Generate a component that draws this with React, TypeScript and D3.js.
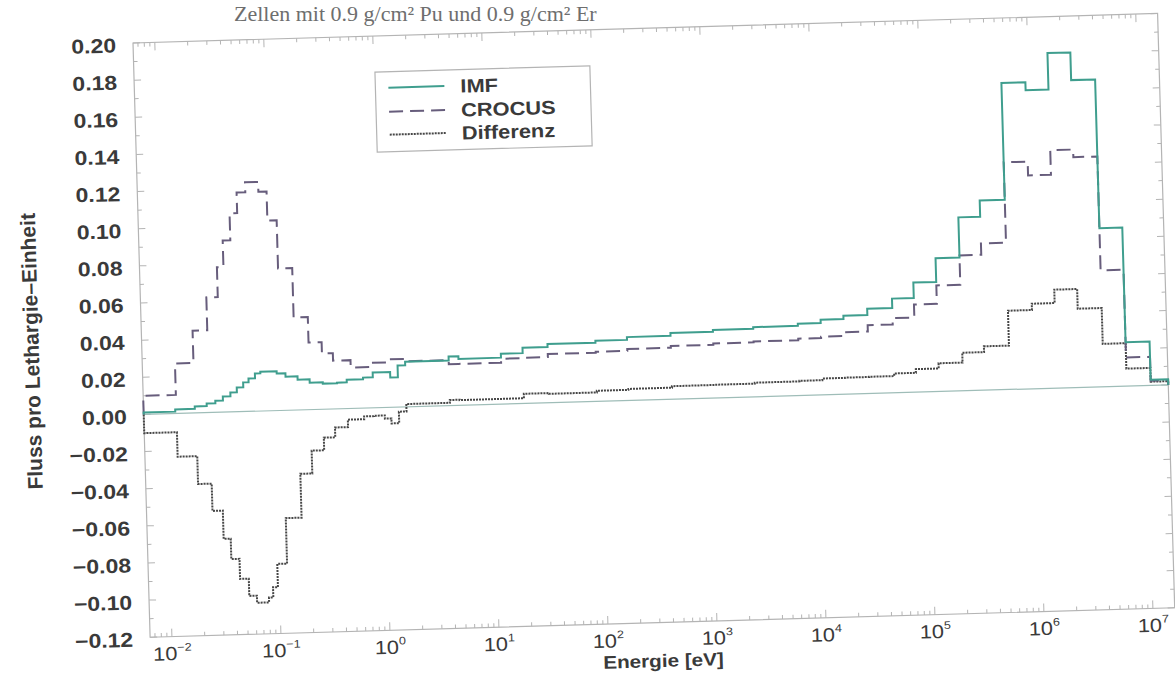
import React from "react";
import * as d3 from "d3";

// ---------- data (energy group edges given as log10(E / eV)) ----------
const yTickValues = [0.2, 0.18, 0.16, 0.14, 0.12, 0.1, 0.08, 0.06, 0.04, 0.02, 0.0, -0.02, -0.04, -0.06, -0.08, -0.1, -0.12];
const xDecades = [-2, -1, 0, 1, 2, 3, 4, 5, 6, 7];
const legendLabels = ["IMF", "CROCUS", "Differenz"];

const imfEdges = [-2.2, -1.91, -1.73, -1.62, -1.54, -1.47, -1.4, -1.34, -1.28, -1.23, -1.17, -1.12, -0.97, -0.89, -0.78, -0.67, -0.55, -0.42, -0.33, -0.18, -0.09, 0.01, 0.07, 0.14, 0.21,
  0.61, 0.7, 1.09, 1.29, 1.52, 1.96, 2.25, 2.65, 3.04, 3.41, 3.82, 4.03, 4.24, 4.46, 4.69, 4.89, 5.1, 5.32, 5.52, 5.75, 5.97, 6.18, 6.39, 6.61, 6.82, 7.04, 7.2];
const imfValues = [0.001, 0.0022, 0.0035, 0.0049, 0.0063, 0.0084, 0.0104, 0.013, 0.0157, 0.0177, 0.0203, 0.0212, 0.02, 0.0181, 0.0163, 0.0145, 0.0138, 0.0141, 0.0155, 0.0164, 0.019, 0.019, 0.016, 0.0224,
  0.0243, 0.0264, 0.025, 0.0271, 0.03, 0.0316, 0.0326, 0.0341, 0.0356, 0.0366, 0.0375, 0.0387, 0.0405, 0.0423, 0.0457, 0.0507, 0.059, 0.0718, 0.0934, 0.1022, 0.165, 0.1608, 0.1804, 0.1655, 0.0854, 0.0236, 0.003];

const crocusEdges = [-2.2, -1.9, -1.73, -1.595, -1.49, -1.43, -1.36, -1.29, -1.21, -1.09, -1.015, -0.93, -0.8, -0.67, -0.55, -0.45, -0.29, -0.11, 0.07, 0.23,
  0.61, 0.7, 1.09, 1.29, 1.52, 1.96, 2.25, 2.65, 3.04, 3.41, 3.82, 4.03, 4.24, 4.46, 4.69, 4.89, 5.1, 5.32, 5.52, 5.75, 5.97, 6.18, 6.39, 6.61, 6.82, 7.04, 7.2];
const crocusValues = [0.01, 0.0269, 0.0443, 0.062, 0.078, 0.0924, 0.1069, 0.118, 0.1233, 0.118, 0.1024, 0.0764, 0.0498, 0.0361, 0.03, 0.026, 0.022, 0.0242, 0.0258,
  0.0245, 0.0223, 0.0223, 0.0244, 0.0246, 0.0262, 0.0267, 0.0277, 0.0286, 0.0293, 0.0298, 0.0306, 0.0313, 0.0334, 0.0368, 0.0402, 0.0472, 0.0571, 0.0729, 0.079, 0.1223, 0.1149, 0.1281, 0.124, 0.0627, 0.0154, 0.0025];

const diffEdges = [-2.2, -1.9, -1.72, -1.595, -1.5, -1.435, -1.36, -1.28, -1.21, -1.1, -1.06, -1.015, -0.925, -0.78, -0.67, -0.555, -0.45, -0.33, -0.18, -0.09, 0.01, 0.07, 0.14, 0.21,
  0.61, 0.7, 1.09, 1.29, 1.52, 1.96, 2.25, 2.65, 3.04, 3.41, 3.82, 4.03, 4.24, 4.46, 4.69, 4.89, 5.1, 5.32, 5.52, 5.75, 5.97, 6.18, 6.39, 6.61, 6.82, 7.04, 7.2];
const diffValues = [-0.0101, -0.0233, -0.0383, -0.053, -0.0682, -0.0792, -0.09, -0.0993, -0.1031, -0.1005, -0.095, -0.0825, -0.058, -0.0344, -0.0221, -0.0153, -0.01, -0.006, -0.0045, -0.0043, -0.006, -0.0087, -0.0025,
  0.0015, 0.003, 0.0028, 0.0028, 0.0052, 0.0048, 0.0057, 0.0062, 0.007, 0.0071, 0.0076, 0.0079, 0.0088, 0.0089, 0.009, 0.0104, 0.0124, 0.0152, 0.0205, 0.0236, 0.0424, 0.0458, 0.053, 0.0424, 0.0231, 0.0094, 0.002];

// ---------- layout ----------
const W = 1175;
const H = 683;
const L = 133, T = 43, R = 1158, B = 637.5;
const TILT = -1.65;
const SX = 1.15;

const C_IMF = "#3f9e8e";
const C_CROCUS = "#675d7c";
const C_DIFF = "#474747";
const C_AXIS = "#b4b4b4";
const C_TEXT = "#3a3a3a";
const SANS = "'Liberation Sans', Arial, sans-serif";

function Txt({ x, y, sx = SX, rotate = 0, children, ...rest }: any) {
  return (
    <g transform={`translate(${x},${y}) rotate(${rotate}) scale(${sx},1)`}>
      <text x={0} y={0} {...rest}>{children}</text>
    </g>
  );
}

export default function App() {
  const x = d3.scaleLog().domain([Math.pow(10, -2.2), Math.pow(10, 7.2)]).range([L, R]);
  const y = d3.scaleLinear().domain([-0.12, 0.2]).range([B, T]);

  const stepPath = (edges: number[], vals: number[]) => {
    const pts: [number, number][] = [[edges[0], 0]];
    vals.forEach((v, i) => pts.push([edges[i], v]));
    pts.push([edges[edges.length - 1], vals[vals.length - 1]]);
    pts.push([edges[edges.length - 1], 0]);
    const line = d3
      .line<[number, number]>()
      .x((d) => x(Math.pow(10, d[0])))
      .y((d) => y(d[1]))
      .curve(d3.curveStepAfter);
    return line(pts) || "";
  };

  const minorX: number[] = [];
  for (let d = -3; d <= 7; d++) {
    for (let k = 2; k <= 9; k++) {
      const v = k * Math.pow(10, d);
      if (v > x.domain()[0] && v < x.domain()[1]) minorX.push(v);
    }
  }
  const minorY = d3.range(-0.11, 0.2, 0.02);

  const legX = 374, legY = 79, legW = 215, legH = 80;
  const legRows = [16, 40, 63];
  const legStyles = [
    { stroke: C_IMF, dash: "none", w: 2 },
    { stroke: C_CROCUS, dash: "14,7", w: 2 },
    { stroke: C_DIFF, dash: "2,1", w: 2 },
  ];

  return (
    <svg width={W} height={H} style={{ position: "absolute", left: 0, top: 0, background: "#fff" }}>
      <rect x={0} y={0} width={W} height={H} fill="#fff" />

      {/* caption fragment of the scanned page */}
      <text x={234} y={21} fill="#6e6e6e" fontFamily="'Liberation Serif', 'DejaVu Serif', serif" fontSize={22}>
        Zellen mit 0.9 g/cm² Pu und 0.9 g/cm² Er
      </text>

      <g transform={`rotate(${TILT}, ${L}, ${T})`}>
        {/* frame */}
        <rect x={L} y={T} width={R - L} height={B - T} fill="none" stroke={C_AXIS} strokeWidth={1.2} />

        {/* x ticks */}
        {xDecades.map((d) => {
          const px = x(Math.pow(10, d));
          return (
            <g key={"xd" + d}>
              <line x1={px} x2={px} y1={B} y2={B - 8} stroke={C_AXIS} />
              <line x1={px} x2={px} y1={T} y2={T + 8} stroke={C_AXIS} />
            </g>
          );
        })}
        {minorX.map((v, i) => {
          const px = x(v);
          return (
            <g key={"xm" + i}>
              <line x1={px} x2={px} y1={B} y2={B - 4} stroke={C_AXIS} />
              <line x1={px} x2={px} y1={T} y2={T + 4} stroke={C_AXIS} />
            </g>
          );
        })}

        {/* y ticks */}
        {yTickValues.map((v) => {
          const py = y(v);
          return (
            <g key={"yt" + v}>
              <line x1={L} x2={L + 7} y1={py} y2={py} stroke={C_AXIS} />
              <line x1={R} x2={R - 7} y1={py} y2={py} stroke={C_AXIS} />
            </g>
          );
        })}
        {minorY.map((v, i) => {
          const py = y(v);
          return (
            <g key={"ym" + i}>
              <line x1={L} x2={L + 4} y1={py} y2={py} stroke={C_AXIS} />
              <line x1={R} x2={R - 4} y1={py} y2={py} stroke={C_AXIS} />
            </g>
          );
        })}

        {/* zero line */}
        <line x1={L} x2={R} y1={y(0)} y2={y(0)} stroke="#9fbdb8" strokeWidth={1.2} />

        {/* series */}
        <path d={stepPath(diffEdges, diffValues)} fill="none" stroke={C_DIFF} strokeWidth={2} strokeDasharray="2,1" />
        <path d={stepPath(crocusEdges, crocusValues)} fill="none" stroke={C_CROCUS} strokeWidth={2} strokeDasharray="14,7" />
        <path d={stepPath(imfEdges, imfValues)} fill="none" stroke={C_IMF} strokeWidth={2} />

        {/* y tick labels */}
        {yTickValues.map((v) => (
          <Txt key={"yl" + v} x={116} y={y(v) + 9} textAnchor="end" fill={C_TEXT} fontFamily={SANS} fontWeight="bold" fontSize={20}>
            {d3.format(".2f")(v).replace("-", "\u2212")}
          </Txt>
        ))}

        {/* x tick labels */}
        {xDecades.map((d) => (
          <Txt key={"xl" + d} x={x(Math.pow(10, d))} y={661} textAnchor="middle" fill={C_TEXT} fontFamily={SANS} fontSize={19}>
            <tspan>10</tspan>
            <tspan dy={-9} fontSize={11}>{String(d).replace("-", "\u2212")}</tspan>
          </Txt>
        ))}

        {/* axis titles */}
        <Txt x={(L + R) / 2} y={682} textAnchor="middle" fill={C_TEXT} fontFamily={SANS} fontWeight="bold" fontSize={18}>
          Energie [eV]
        </Txt>
        <Txt x={30} y={(T + B) / 2 + 8} sx={1} rotate={-90} textAnchor="middle" fill={C_TEXT} fontFamily={SANS} fontWeight="bold" fontSize={21}>
          Fluss pro Lethargie–Einheit
        </Txt>

        {/* legend */}
        <rect x={legX} y={legY} width={legW} height={legH} fill="#fff" stroke={C_AXIS} strokeWidth={1.2} />
        {legendLabels.map((lab, i) => (
          <g key={lab}>
            <line x1={legX + 13} x2={legX + 69} y1={legY + legRows[i]} y2={legY + legRows[i]} stroke={legStyles[i].stroke} strokeWidth={legStyles[i].w} strokeDasharray={legStyles[i].dash} />
            <Txt x={legX + 85} y={legY + legRows[i] + 7} fill={C_TEXT} fontFamily={SANS} fontWeight="bold" fontSize={19}>
              {lab}
            </Txt>
          </g>
        ))}
      </g>
    </svg>
  );
}
